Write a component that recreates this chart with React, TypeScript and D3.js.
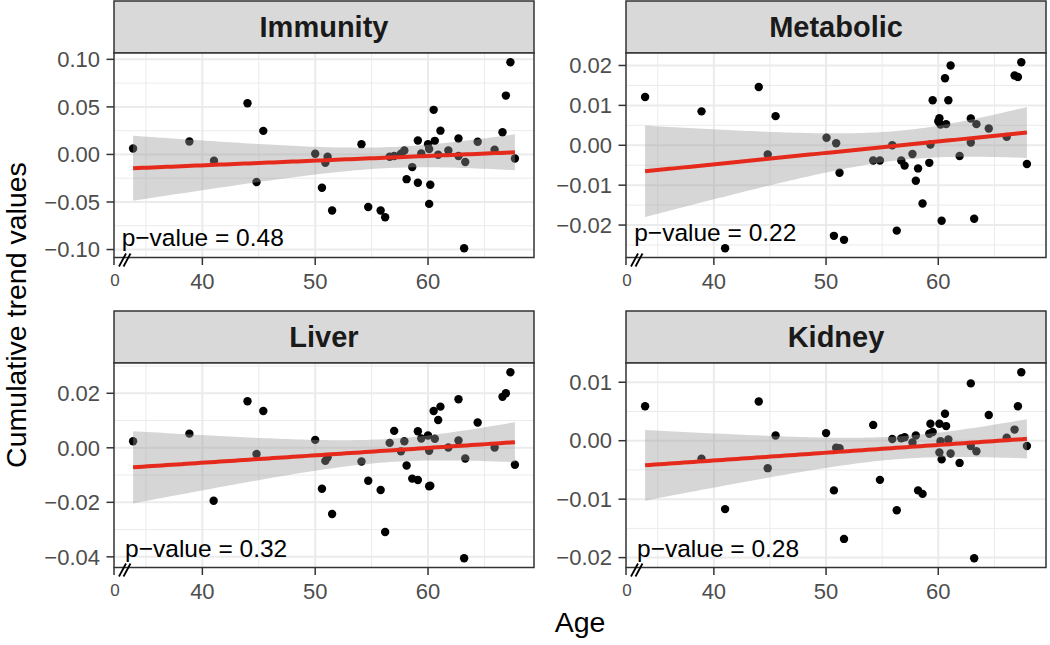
import React from 'react';
import * as d3 from 'd3';

// ---------- DATA ----------
const immunityAge = [33.86, 38.85, 41.03, 44.0, 44.8, 45.4, 50.0, 50.9, 51.1, 50.6, 51.5, 54.1, 54.7, 55.8, 56.2, 56.6, 57.0, 57.9, 57.6, 58.1, 58.6, 59.1, 59.1, 59.4, 60.0, 60.1, 60.1, 60.2, 60.5, 60.6, 60.9, 61.1, 61.8, 62.7, 62.7, 63.2, 63.3, 64.4, 65.9, 66.6, 66.9, 67.3, 67.7];
const immunityValue = [0.0063, 0.0136, -0.0066, 0.0538, -0.029, 0.0248, 0.0007, -0.0087, -0.0024, -0.035, -0.059, 0.0108, -0.0552, -0.059, -0.066, -0.0024, -0.0017, 0.0042, 0.0007, -0.026, -0.0133, 0.0147, -0.0297, 0.001, 0.0108, -0.052, 0.0056, -0.0318, 0.0469, 0.0143, -0.0003, 0.025, 0.0042, 0.0168, -0.0017, -0.0986, -0.008, 0.0133, 0.0049, 0.0234, 0.0619, 0.0969, -0.0042];

const metabolicAge = [33.87, 38.9, 41.0, 44.0, 44.8, 45.5, 50.04, 50.9, 50.7, 51.2, 51.6, 54.2, 54.8, 55.9, 56.3, 56.7, 57.0, 57.7, 58.0, 58.2, 58.6, 59.2, 59.3, 59.5, 60.0, 60.1, 60.2, 60.3, 60.6, 60.7, 60.9, 61.1, 61.9, 62.9, 62.9, 63.2, 63.4, 64.5, 66.1, 66.8, 67.1, 67.4, 67.9];
const metabolicValue = [0.0121, 0.0085, -0.0258, 0.0146, -0.0023, 0.0073, 0.0019, 0.0005, -0.0227, -0.0069, -0.0237, -0.0038, -0.0038, 0.0, -0.0214, -0.0038, -0.0051, -0.0022, -0.0089, -0.0058, -0.0146, -0.0044, 0.0002, 0.0113, 0.006, 0.0068, 0.0052, -0.0189, 0.0168, 0.0053, 0.0113, 0.02, -0.0027, 0.0067, 0.0007, -0.0184, 0.0053, 0.0042, 0.0021, 0.0175, 0.0171, 0.0208, -0.0047];

const liverAge = [33.86, 38.85, 41.0, 44.0, 44.8, 45.4, 50.0, 50.9, 51.1, 50.6, 51.5, 54.1, 54.7, 55.8, 56.2, 56.6, 57.0, 57.9, 57.6, 58.1, 58.6, 59.1, 59.1, 59.4, 60.0, 60.1, 60.1, 60.2, 60.5, 60.6, 60.9, 61.1, 61.8, 62.7, 62.7, 63.2, 63.3, 64.4, 65.9, 66.6, 66.9, 67.3, 67.7];
const liverValue = [0.0024, 0.0052, -0.0194, 0.0171, -0.0023, 0.0135, 0.0029, -0.0048, -0.0035, -0.015, -0.0243, -0.005, -0.0121, -0.0155, -0.0309, 0.0018, 0.0062, 0.0024, -0.0013, -0.0065, -0.0113, 0.0061, -0.0118, 0.0034, 0.0045, -0.0141, -0.0011, -0.0139, 0.0135, 0.0033, 0.0102, 0.0151, 0.0001, 0.0178, 0.0027, -0.0405, -0.0039, 0.0093, 0.0001, 0.0187, 0.02, 0.0277, -0.0062];

const kidneyAge = [33.87, 38.9, 41.0, 44.0, 44.8, 45.5, 50.0, 50.9, 51.2, 50.7, 51.6, 54.2, 54.8, 55.9, 56.3, 56.7, 57.0, 57.7, 58.0, 58.2, 58.6, 59.2, 59.3, 59.5, 60.1, 60.2, 60.3, 60.1, 60.6, 60.7, 60.9, 61.1, 61.9, 62.9, 62.9, 63.2, 63.4, 64.5, 66.1, 66.8, 67.1, 67.4, 67.9];
const kidneyValue = [0.0059, -0.0031, -0.0117, 0.0067, -0.0047, 0.0009, 0.0013, -0.0012, -0.0013, -0.0085, -0.0168, 0.0027, -0.0067, 0.0003, -0.0119, 0.0004, 0.0006, -0.0003, 0.0009, -0.0085, -0.0091, 0.0012, 0.0029, 0.0015, 0.0029, -0.0001, -0.0032, -0.002, 0.0046, 0.0025, 0.0002, -0.0022, -0.0038, 0.0098, -0.0009, -0.0201, -0.0018, 0.0044, 0.0005, 0.0019, 0.0059, 0.0117, -0.0009];

const panelTitles = ['Immunity', 'Metabolic', 'Liver', 'Kidney'];
const pValueLabels = ['0.48', '0.22', '0.32', '0.28'];
const pLabelX = [32.85, 32.9, 33.15, 33.15];
const pLabelY = [-0.0963, -0.0239, -0.0401, -0.0199];
const xTicks = [40, 50, 60];
const xBreakLabel = '0';
const immunityTicks = [-0.1, -0.05, 0, 0.05, 0.1];
const metabolicTicks = [-0.02, -0.01, 0, 0.01, 0.02];
const liverTicks = [-0.04, -0.02, 0, 0.02];
const kidneyTicks = [-0.02, -0.01, 0, 0.01];
const xTitle = 'Age';
const yTitle = 'Cumulative trend values';

// ---------- LAYOUT ----------
const W = 1050;
const H = 645;
const colX = [114, 626];
const rowY = [1, 311];
const PW = 420;
const STRIP_H = 52;
const PH = 204.5;
const FONT = '"Liberation Sans", Arial, Helvetica, sans-serif';
const T975 = 2.0195;

const fmtTick = (v: number) => (v < -1e-12 ? '\u2212' : '') + Math.abs(v).toFixed(2);

function fit(xs: number[], ys: number[]) {
  const n = xs.length;
  const mx = d3.mean(xs) as number;
  const my = d3.mean(ys) as number;
  let sxx = 0, sxy = 0;
  xs.forEach((x, i) => { sxx += (x - mx) ** 2; sxy += (x - mx) * (ys[i] - my); });
  const b = sxy / sxx;
  const a = my - b * mx;
  let sse = 0;
  xs.forEach((x, i) => { sse += (ys[i] - a - b * x) ** 2; });
  const s = Math.sqrt(sse / (n - 2));
  return (x: number) => {
    const yh = a + b * x;
    const se = s * Math.sqrt(1 / n + (x - mx) ** 2 / sxx);
    return { x, y: yh, lo: yh - T975 * se, hi: yh + T975 * se };
  };
}

function expand([a, b]: [number, number]): [number, number] {
  const d = (b - a) * 0.05;
  return [a - d, b + d];
}

type PanelProps = {
  idx: number; ages: number[]; values: number[]; ticks: number[];
  x0: number; y0: number;
};

function Panel({ idx, ages, values, ticks, x0, y0 }: PanelProps) {
  const top = y0 + STRIP_H;
  const bottom = top + PH;
  const f = fit(ages, values);
  const [xmin, xmax] = d3.extent(ages) as [number, number];
  const band = d3.range(80).map(i => f(xmin + (xmax - xmin) * i / 79));
  const x = d3.scaleLinear().domain(expand([xmin, xmax])).range([x0, x0 + PW]);
  const allY = [...values, ...band.map(b => b.lo), ...band.map(b => b.hi)];
  const y = d3.scaleLinear().domain(expand(d3.extent(allY) as [number, number])).range([bottom, top]);

  const [dy0, dy1] = y.domain();
  const ystep = ticks[1] - ticks[0];
  const yMinor = d3.range(ticks.length + 1).map(i => ticks[0] - ystep / 2 + i * ystep).filter(v => v > dy0 && v < dy1);
  const [dx0, dx1] = x.domain();
  const xstep = xTicks[1] - xTicks[0];
  const xMinor = d3.range(xTicks.length + 1).map(i => xTicks[0] - xstep / 2 + i * xstep).filter(v => v > dx0 && v < dx1);

  const area = d3.area<any>().x(d => x(d.x)).y0(d => y(d.lo)).y1(d => y(d.hi));
  const line = d3.line<any>().x(d => x(d.x)).y(d => y(d.y));
  const grid = '#EBEBEB';

  return (
    <g>
      {/* strip */}
      <rect x={x0} y={y0} width={PW} height={STRIP_H} fill="#D9D9D9" stroke="#333333" strokeWidth={1.5} />
      <text x={x0 + PW / 2} y={y0 + STRIP_H / 2 + 10} textAnchor="middle" fontFamily={FONT} fontWeight="bold" fontSize={29} fill="#1A1A1A">{panelTitles[idx]}</text>
      {/* panel */}
      <rect x={x0} y={top} width={PW} height={PH} fill="#FFFFFF" />
      {yMinor.map(v => <line key={'ym' + v} x1={x0} x2={x0 + PW} y1={y(v)} y2={y(v)} stroke={grid} strokeWidth={1} />)}
      {xMinor.map(v => <line key={'xm' + v} y1={top} y2={bottom} x1={x(v)} x2={x(v)} stroke={grid} strokeWidth={1} />)}
      {ticks.map(v => <line key={'yM' + v} x1={x0} x2={x0 + PW} y1={y(v)} y2={y(v)} stroke={grid} strokeWidth={2} />)}
      {xTicks.map(v => <line key={'xM' + v} y1={top} y2={bottom} x1={x(v)} x2={x(v)} stroke={grid} strokeWidth={2} />)}
      {ages.map((a, i) => <circle key={'p' + i} cx={x(a)} cy={y(values[i])} r={4.2} fill="#000000" />)}
      <path d={area(band) as string} fill="#999999" fillOpacity={0.4} />
      <path d={line(band) as string} fill="none" stroke="#E5291B" strokeWidth={4} />
      <text x={x(pLabelX[idx])} y={y(pLabelY[idx])} fontFamily={FONT} fontSize={24.5} fill="#000000">{'p\u2212value = ' + pValueLabels[idx]}</text>
      <rect x={x0} y={top} width={PW} height={PH} fill="none" stroke="#333333" strokeWidth={1.5} />
      {/* y axis */}
      {ticks.map(v => (
        <g key={'yt' + v}>
          <line x1={x0 - 7.5} x2={x0} y1={y(v)} y2={y(v)} stroke="#333333" strokeWidth={1.5} />
          <text x={x0 - 14} y={y(v) + 7.8} textAnchor="end" fontFamily={FONT} fontSize={22} fill="#4D4D4D">{fmtTick(v)}</text>
        </g>
      ))}
      {/* x axis */}
      {xTicks.map(v => (
        <g key={'xt' + v}>
          <line x1={x(v)} x2={x(v)} y1={bottom} y2={bottom + 7.5} stroke="#333333" strokeWidth={1.5} />
          <text x={x(v)} y={bottom + 31.5} textAnchor="middle" fontFamily={FONT} fontSize={22} fill="#4D4D4D">{String(v)}</text>
        </g>
      ))}
      <line x1={x0} x2={x0} y1={bottom} y2={bottom + 7.5} stroke="#333333" strokeWidth={1.5} />
      <text x={x0 + 1} y={bottom + 28} textAnchor="middle" fontFamily={FONT} fontSize={17} fill="#4D4D4D">{xBreakLabel}</text>
      <line x1={x0 + 5} y1={bottom + 9} x2={x0 + 12} y2={bottom - 4} stroke="#000000" strokeWidth={1.8} />
      <line x1={x0 + 9.5} y1={bottom + 9} x2={x0 + 16.5} y2={bottom - 4} stroke="#000000" strokeWidth={1.8} />
    </g>
  );
}

export default function App() {
  const panels = [
    { ages: immunityAge, values: immunityValue, ticks: immunityTicks },
    { ages: metabolicAge, values: metabolicValue, ticks: metabolicTicks },
    { ages: liverAge, values: liverValue, ticks: liverTicks },
    { ages: kidneyAge, values: kidneyValue, ticks: kidneyTicks },
  ];
  return (
    <svg width={W} height={H} style={{ position: 'absolute', left: 0, top: 0, background: '#FFFFFF' }}>
      <rect x={0} y={0} width={W} height={H} fill="#FFFFFF" />
      {panels.map((p, i) => (
        <Panel key={i} idx={i} ages={p.ages} values={p.values} ticks={p.ticks} x0={colX[i % 2]} y0={rowY[Math.floor(i / 2)]} />
      ))}
      <text x={(colX[0] + colX[1] + PW) / 2} y={632} textAnchor="middle" fontFamily={FONT} fontSize={28.5} fill="#000000">{xTitle}</text>
      <text transform={`translate(25.5,315) rotate(-90)`} textAnchor="middle" fontFamily={FONT} fontSize={28.5} fill="#000000">{yTitle}</text>
    </svg>
  );
}
